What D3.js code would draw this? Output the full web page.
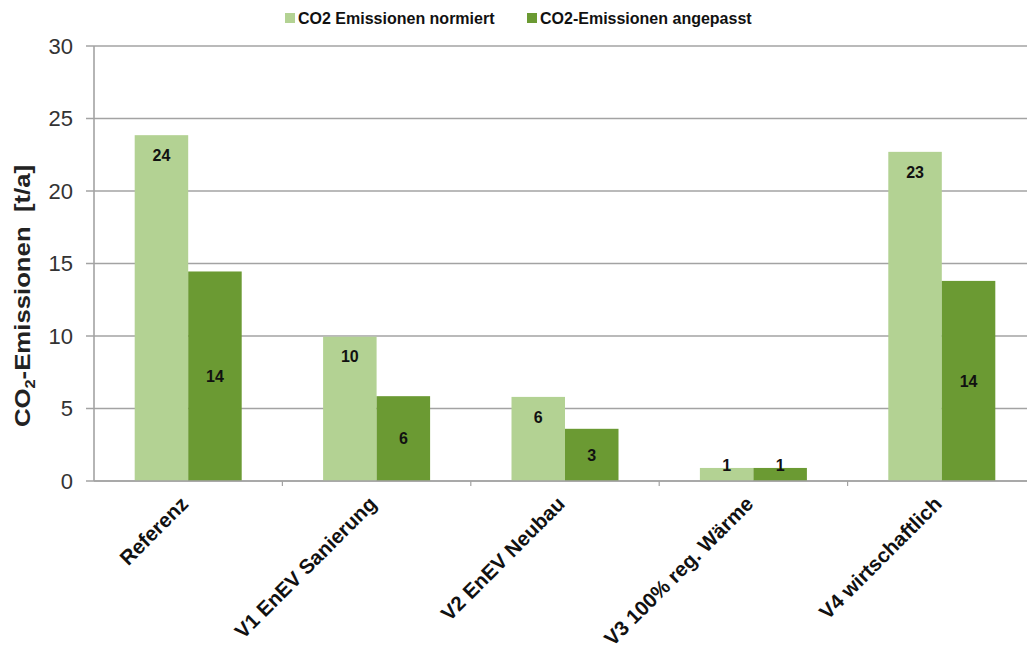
<!DOCTYPE html>
<html>
<head>
<meta charset="utf-8">
<script src="https://cdn.jsdelivr.net/npm/d3@7"></script>
<style>
  body { margin: 0; background: #fff; }
  svg { display: block; font-family: "Liberation Sans", Arial, sans-serif; }
</style>
</head>
<body>
<svg id="chart" width="1027" height="654"></svg>
<script>
var categories = ['Referenz', 'V1 EnEV Sanierung', 'V2 EnEV Neubau', 'V3 100% reg. Wärme', 'V4 wirtschaftlich'];
var series = ['CO2 Emissionen normiert', 'CO2-Emissionen angepasst'];
var normiert = [23.85, 9.95, 5.8, 0.9, 22.7];
var angepasst = [14.45, 5.85, 3.6, 0.9, 13.8];
var labelsNormiert = ['24', '10', '6', '1', '23'];
var labelsAngepasst = ['14', '6', '3', '1', '14'];
var yTicks = [0, 5, 10, 15, 20, 25, 30];

var colours = { 'CO2 Emissionen normiert': '#b3d293', 'CO2-Emissionen angepasst': '#6b9a33' };

var svg = d3.select('#chart');
var plotLeft = 94, plotRight = 1036, plotTop = 46, plotBottom = 481;

var x = d3.scaleBand().domain(categories).range([plotLeft, plotRight]).padding(0);
var x1 = d3.scaleBand().domain(series).range([0, 107]).padding(0);
var y = d3.scaleLinear().domain([0, 30]).range([plotBottom, plotTop]);

var rows = categories.map(function(c, i) {
	return [
		{ cat: c, s: series[0], v: normiert[i], label: labelsNormiert[i] },
		{ cat: c, s: series[1], v: angepasst[i], label: labelsAngepasst[i] }
	];
});

// gridlines
svg.append('g')
.selectAll('line')
.data(yTicks)
.enter()
.append('line')
.attr('x1', plotLeft - 8)
.attr('x2', plotRight)
.attr('y1', function(d) { return y(d); })
.attr('y2', function(d) { return y(d); })
.style('stroke', '#a3a3a3')
.style('stroke-width', 1.6);

// y axis line
svg.append('line')
.attr('x1', plotLeft).attr('x2', plotLeft)
.attr('y1', plotTop).attr('y2', plotBottom)
.style('stroke', '#a3a3a3')
.style('stroke-width', 1.6);

// y tick labels
svg.append('g')
.selectAll('text')
.data(yTicks)
.enter()
.append('text')
.attr('x', 73)
.attr('y', function(d) { return y(d); })
.attr('dy', '0.36em')
.attr('text-anchor', 'end')
.style('font-size', '22px')
.style('fill', '#333')
.text(function(d) { return d; });

// category ticks
svg.append('g')
.selectAll('line')
.data(categories.slice(1))
.enter()
.append('line')
.attr('x1', function(d) { return x(d); })
.attr('x2', function(d) { return x(d); })
.attr('y1', plotBottom)
.attr('y2', plotBottom + 5)
.style('stroke', '#a3a3a3')
.style('stroke-width', 1.2);

// bars
var groups = svg.append('g')
.selectAll('g')
.data(rows)
.enter()
.append('g')
.attr('transform', function(d) { return 'translate(' + (x(d[0].cat) + (x.bandwidth() - 107) / 2) + ',0)'; });

groups.selectAll('rect')
.data(function(d) { return d; })
.enter()
.append('rect')
.attr('x', function(d) { return x1(d.s); })
.attr('width', x1.bandwidth())
.attr('y', function(d) { return y(d.v); })
.attr('height', function(d) { return plotBottom - y(d.v); })
.style('fill', function(d) { return colours[d.s]; });

groups.selectAll('text')
.data(function(d) { return d; })
.enter()
.append('text')
.attr('x', function(d) { return x1(d.s) + x1.bandwidth() / 2; })
.attr('y', function(d) {
	var h = plotBottom - y(d.v);
	if (h < 30) return y(d.v) - 3;
	if (d.s === series[0]) return y(d.v) + 20;
	return (y(d.v) + plotBottom) / 2;
})
.attr('dy', '0.36em')
.attr('text-anchor', 'middle')
.style('font-size', '16px')
.style('font-weight', 'bold')
.style('fill', '#111')
.text(function(d) { return d.label; });

// x axis line
svg.append('line')
.attr('x1', plotLeft).attr('x2', plotRight)
.attr('y1', plotBottom).attr('y2', plotBottom)
.style('stroke', '#a3a3a3')
.style('stroke-width', 1.6);

// category labels
svg.append('g')
.selectAll('text')
.data(categories)
.enter()
.append('text')
.attr('transform', function(d) { return 'translate(' + (x(d) + x.bandwidth() / 2 - 4) + ',' + (plotBottom + 19) + ') rotate(-45)'; })
.attr('dy', '0.36em')
.attr('text-anchor', 'end')
.style('font-size', '20.5px')
.style('font-weight', 'bold')
.style('fill', '#111')
.text(function(d) { return d; });

// y axis title
var title = svg.append('text')
.attr('transform', 'translate(30,296) rotate(-90) scale(1.17,1)')
.attr('text-anchor', 'middle')
.style('font-size', '22px')
.style('font-weight', 'bold')
.style('fill', '#222');
title.append('tspan').text('CO');
title.append('tspan').attr('dy', '5').style('font-size', '14px').text('2');
title.append('tspan').attr('dy', '-5').text('-Emissionen\u00a0\u00a0[t/a]');

// legend
var legendX = [285, 527];
var legend = svg.append('g')
.selectAll('g')
.data(series)
.enter()
.append('g')
.attr('transform', function(d, i) { return 'translate(' + legendX[i] + ',18)'; });

legend.append('rect')
.attr('x', 0).attr('y', -5)
.attr('width', 10).attr('height', 10)
.style('fill', function(d) { return colours[d]; });

legend.append('text')
.attr('x', 13)
.attr('dy', '0.36em')
.style('font-size', '16px')
.style('font-weight', 'bold')
.style('fill', '#111')
.text(function(d) { return d; });
</script>
</body>
</html>
